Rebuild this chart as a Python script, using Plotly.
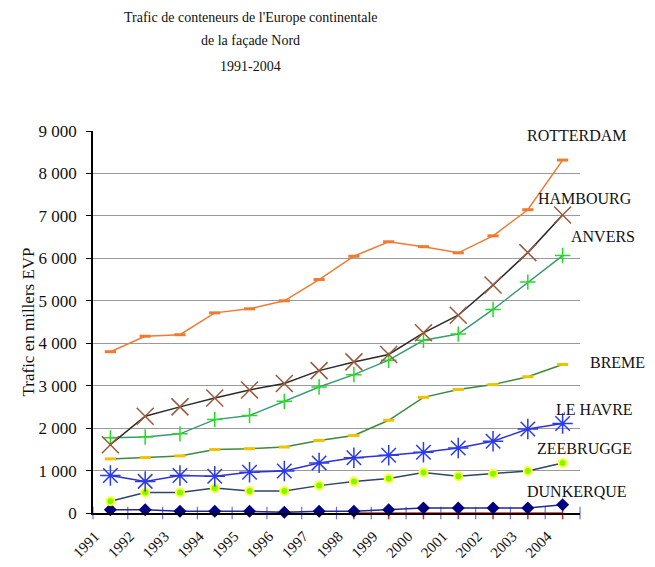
import plotly.graph_objects as go

FONT = "Liberation Serif"

years = ["1991", "1992", "1993", "1994", "1995", "1996", "1997",
         "1998", "1999", "2000", "2001", "2002", "2003", "2004"]

rotterdam = [3800, 4165, 4200, 4715, 4810, 5000, 5500, 6050, 6390, 6275, 6130, 6530, 7145, 8315]
hambourg  = [1610, 2280, 2500, 2710, 2900, 3050, 3355, 3560, 3735, 4245, 4660, 5370, 6135, 7020]
anvers    = [1770, 1790, 1865, 2200, 2295, 2630, 2970, 3260, 3600, 4070, 4215, 4795, 5440, 6065]
breme     = [1275, 1305, 1345, 1495, 1515, 1555, 1710, 1825, 2185, 2725, 2910, 3025, 3210, 3500]
le_havre  = [885, 745, 885, 865, 960, 990, 1180, 1300, 1360, 1430, 1530, 1690, 1980, 2110]
zeebrugge = [275, 485, 485, 590, 520, 520, 645, 740, 815, 955, 865, 925, 990, 1180]
dunkerque = [78, 78, 40, 40, 40, 15, 40, 40, 78, 118, 118, 118, 118, 196]
autre     = [None] * 7 + [0] * 7

y_ticks = [0, 1000, 2000, 3000, 4000, 5000, 6000, 7000, 8000, 9000]
y_ticktext = ["0", "1 000", "2 000", "3 000", "4 000", "5 000",
              "6 000", "7 000", "8 000", "9 000"]

idx = list(range(len(years)))

series = [
    # name, values, line colour, marker symbol, marker colour, marker size, marker outline
    ("DUNKERQUE", dunkerque, "#262690", "diamond", "#000080", 10, None),
    ("ZEEBRUGGE", zeebrugge, "#2f4466", "circle", "#7CFC00", 8, "#FFFF33"),
    ("LE HAVRE", le_havre, "#3030d0", "asterisk-open", "#2b3be8", 17, None),
    ("BREME", breme, "#3d8a3a", "line-ew-open", "#F2C200", 8, None),
    ("ANVERS", anvers, "#3a9a72", "cross-thin-open", "#22dd22", 11, None),
    ("HAMBOURG", hambourg, "#2a2a2a", "x-thin-open", "#9a5a3c", 17, None),
    ("ROTTERDAM", rotterdam, "#f07a30", "line-ew-open", "#f07a30", 8, None),
]

# label positions in paper fractions beside the end of each line
labels = [
    ("ROTTERDAM", 0.994, 0.987),
    ("HAMBOURG", 1.010, 0.822),
    ("ANVERS", 1.047, 0.723),
    ("BREME", 1.078, 0.393),
    ("LE HAVRE", 1.029, 0.272),
    ("ZEEBRUGGE", 1.010, 0.170),
    ("DUNKERQUE", 0.994, 0.055),
]

fig = go.Figure()

# category boundary ticks crossing the x axis
fig.add_trace(go.Scatter(
    x=[i - 0.5 for i in range(len(years) + 1)], y=[0] * (len(years) + 1),
    mode="markers", showlegend=False, cliponaxis=False, hoverinfo="skip",
    marker=dict(symbol="line-ns-open", size=9, line=dict(color="black", width=1.2)),
))

# red zero series, 1998-2004
fig.add_trace(go.Scatter(
    x=idx, y=autre, mode="lines+markers", showlegend=False, cliponaxis=False,
    line=dict(color="#e02020", width=1.5),
    marker=dict(symbol="line-ns-open", size=9, line=dict(color="#e02020", width=1.5)),
))

for name, vals, lc, sym, mc, ms, outline in series:
    if sym.endswith("-open"):
        mk = dict(symbol=sym, size=ms, color=mc, line=dict(color=mc, width=1.5))
        if sym.startswith("line-ew"):
            mk["line"]["width"] = 3
    else:
        mk = dict(symbol=sym, size=ms, color=mc,
                  line=dict(color=outline or mc, width=2 if outline else 0))
    fig.add_trace(go.Scatter(
        x=idx, y=vals, name=name, mode="lines+markers", showlegend=False,
        cliponaxis=False, line=dict(color=lc, width=1.5), marker=mk,
    ))

for text, lx, ly in labels:
    fig.add_annotation(x=lx, y=ly, xref="paper", yref="paper", text=text,
                       showarrow=False, xanchor="center", yanchor="middle",
                       font=dict(family=FONT, size=16, color="#111"))

for line, yp in [("Trafic de conteneurs de l'Europe continentale", 1.298),
                 ("de la façade Nord", 1.236), ("1991-2004", 1.170)]:
    fig.add_annotation(x=0.324, y=yp, xref="paper", yref="paper", text=line,
                       showarrow=False, xanchor="center", yanchor="middle",
                       font=dict(family=FONT, size=14, color="#111"))

# the page body adds an 8px offset, so the figure is 8px smaller each way
fig.update_layout(
    width=647, height=559,
    plot_bgcolor="white", paper_bgcolor="white",
    font=dict(family=FONT, color="#111", size=16),
    margin=dict(l=85, r=75, t=123, b=54),
    showlegend=False,
    xaxis=dict(range=[-0.5, 13.5], tickmode="array",
               tickvals=[i - 0.44 for i in idx], ticktext=years,
               tickangle=-45, ticks="", showgrid=False, zeroline=False,
               showline=True, linecolor="black", linewidth=1.5, automargin=False,
               ticklabelstandoff=7, tickfont=dict(family=FONT, size=15)),
    yaxis=dict(range=[0, 9000], tickmode="array", tickvals=y_ticks, ticktext=y_ticktext,
               ticks="outside", ticklen=5, tickcolor="black", ticklabelstandoff=6,
               showgrid=True, gridcolor="#9a9a9a", gridwidth=1, zeroline=False,
               showline=True, linecolor="black", linewidth=1.5, automargin=False,
               tickfont=dict(family=FONT, size=17),
               title=dict(text="Trafic en millers EVP", font=dict(family=FONT, size=17),
                          standoff=0)),
)

fig.write_html("out.html")
